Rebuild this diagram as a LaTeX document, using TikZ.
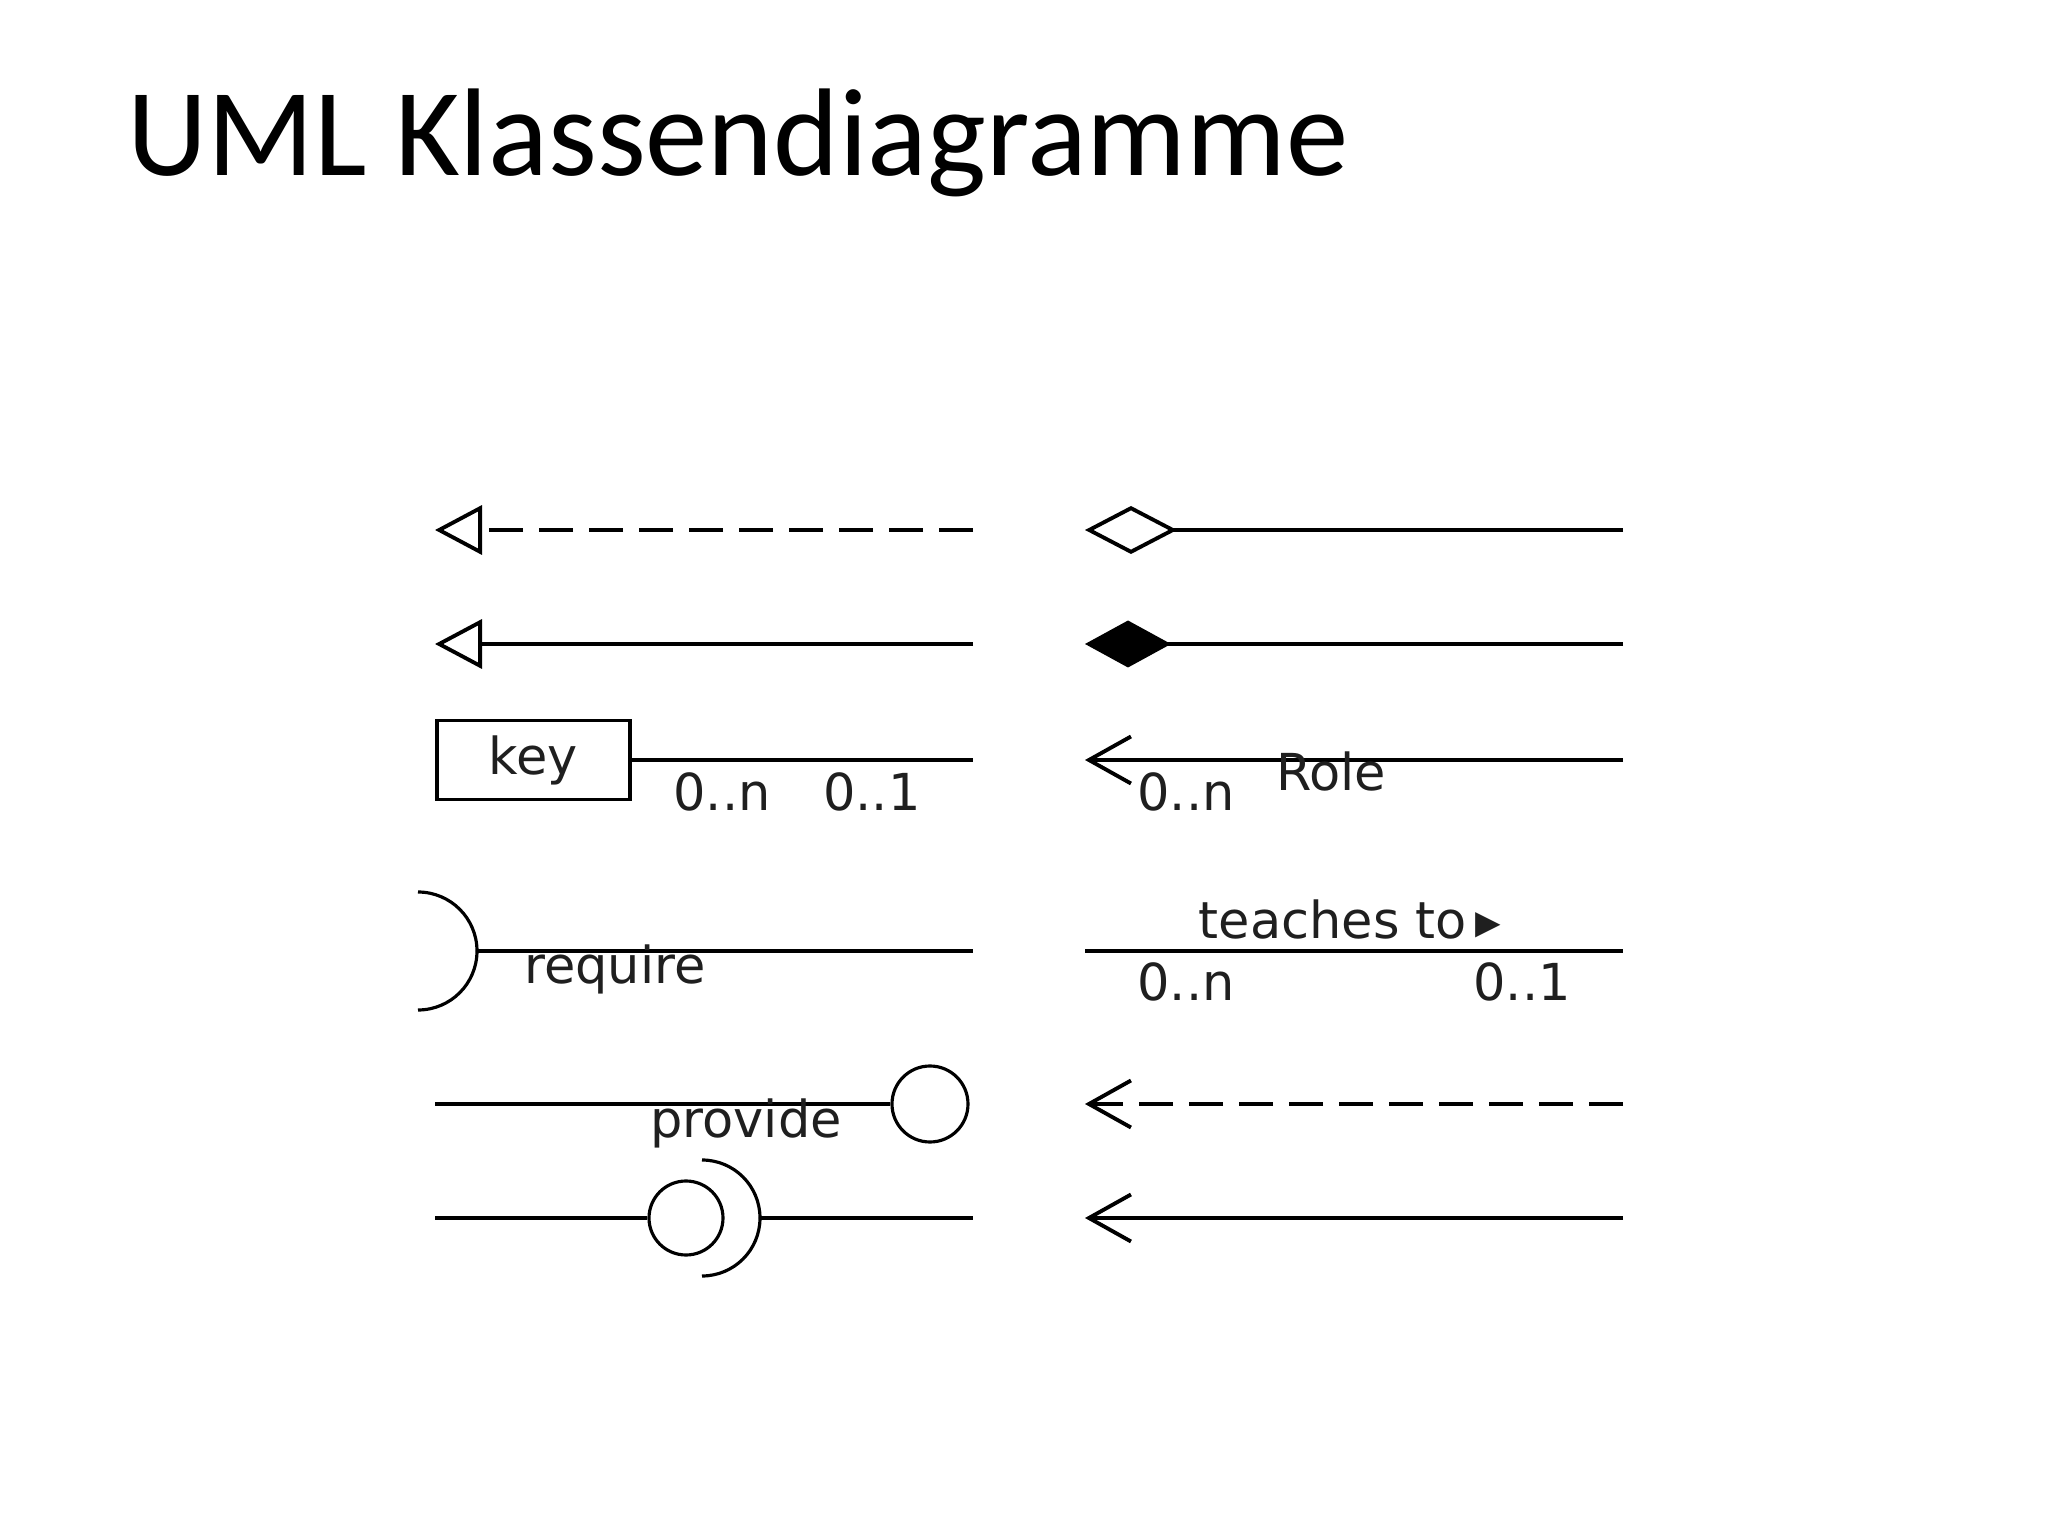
\documentclass[tikz,border=0pt]{standalone}
\usepackage{fontspec}
\usepackage{tikz}
\usetikzlibrary{arrows.meta}
\newfontfamily\titlefont{Carlito}
\newfontfamily\umlfont{DejaVu Sans}

\begin{document}
\begin{tikzpicture}[
    conn/.style={line width=1.1pt},
    dashconn/.style={conn, dash pattern=on 0.34cm off 0.16cm},
    lbl/.style={font=\umlfont\fontsize{14.5}{17}\selectfont, text=black!88, inner sep=0pt},
    ball/.style={draw, circle, line width=0.9pt, minimum size=0.76cm, inner sep=0pt},
    socket/.style={line width=0.9pt},
    realize/.style={-{Triangle[open, length=0.47cm, width=0.49cm]}},
    aggreg/.style={-{Diamond[open, length=0.92cm, width=0.48cm]}},
    compos/.style={-{Diamond[length=0.86cm, width=0.47cm]}},
    navig/.style={-{Straight Barb[length=0.42cm, width=0.47cm]}}
  ]
      \useasboundingbox (0,0) rectangle (20.48,-15.36);

      % Title
      \node[anchor=base west, inner sep=0pt, font=\titlefont\fontsize{35.5}{42}\selectfont]
        (title) at (1.27,-1.76) {UML Klassendiagramme};

      % End points of the rows
      \foreach \r/\y in {1/-5.30, 2/-6.44, 3/-7.60, 4/-9.51, 5/-11.04, 6/-12.18} {
        \coordinate (L\r) at (4.35,\y);
        \coordinate (LE\r) at (9.73,\y);
        \coordinate (R\r) at (10.85,\y);
        \coordinate (RE\r) at (16.23,\y);
      }

      % Left column
      \draw[dashconn, realize] (LE1) -- (L1);
      \draw[conn, realize] (LE2) -- (L2);

      \node[draw, line width=1.1pt, minimum width=1.93cm, minimum height=0.79cm,
        anchor=west, lbl, inner sep=0pt] (keybox) at (L3) {key};
      \draw[conn] (keybox.east) -- (LE3);
      \node[lbl] (keymany) at (7.22,-7.92) {0..n};
      \node[lbl] (keyone) at (8.72,-7.92) {0..1};

      % require: socket and line
      \coordinate (reqsock) at (4.77,-9.51);
      \draw[socket] (reqsock) arc[start angle=0, end angle=90, radius=0.59];
      \draw[socket] (reqsock) arc[start angle=0, end angle=-90, radius=0.59];
      \draw[conn] (reqsock) -- (LE4);
      \node[lbl, anchor=base] (require) at (6.15,-9.83) {require};

      % provide: line and ball
      \node[ball] (provball) at (9.30,-11.04) {};
      \draw[conn] (L5) -- (provball.west);
      \node[lbl, anchor=base] (provide) at (7.46,-11.37) {provide};

      % ball and socket
      \node[ball, minimum size=0.74cm] (asmball) at (6.86,-12.18) {};
      \coordinate (asmsock) at (7.60,-12.18);
      \draw[conn] (L6) -- (asmball.west);
      \draw[socket] (asmsock) arc[start angle=0, end angle=90, radius=0.58];
      \draw[socket] (asmsock) arc[start angle=0, end angle=-90, radius=0.58];
      \draw[conn] (asmsock) -- (LE6);

      % Right column
      \draw[conn, aggreg] (RE1) -- (R1);
      \draw[conn, compos] (RE2) -- (R2);

      \draw[conn, navig] (RE3) -- (R3);
      \node[lbl] (rolemany) at (11.86,-7.92) {0..n};
      \node[lbl] (role) at (13.31,-7.71) {Role};

      \draw[conn] (R4) -- (RE4);
      \node[lbl, anchor=base] (teaches) at (13.50,-9.38) {teaches to\,▸};
      \node[lbl] (teachmany) at (11.86,-9.82) {0..n};
      \node[lbl] (teachone) at (15.22,-9.82) {0..1};

      \draw[dashconn, navig] (RE5) -- (R5);
      \draw[conn, navig] (RE6) -- (R6);
\end{tikzpicture}
\end{document}
